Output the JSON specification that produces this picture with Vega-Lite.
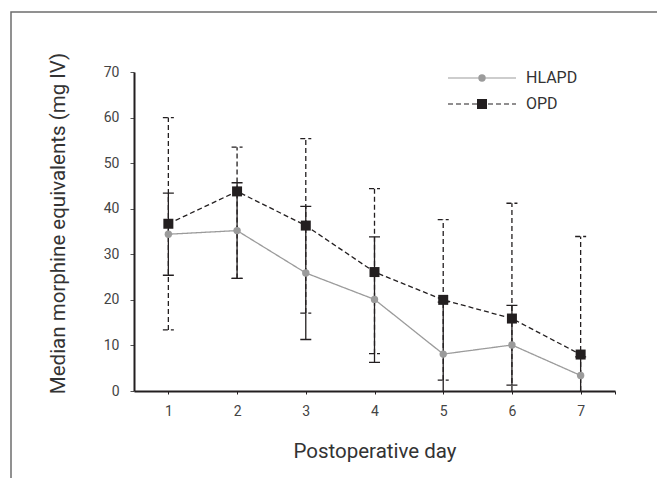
{
  "$schema": "https://vega.github.io/schema/vega-lite/v6.json",
  "autosize": "none",
  "padding": {"left": 11, "top": 12, "right": -5, "bottom": -5},
  "width": 651,
  "height": 471,
  "config": {
    "view": {"stroke": "#6d6d6d", "strokeWidth": 1.5},
    "font": "Roboto",
    "axis": {"grid": false, "labelFont": "Roboto", "titleFont": "Roboto"},
    "legend": {"labelFont": "Roboto"}
  },
  "data": {
    "values": [
      {"day": 1, "group": "HLAPD", "value": 34.4, "lo": 25.4, "hi": 43.4},
      {"day": 2, "group": "HLAPD", "value": 35.2, "lo": 24.7, "hi": 45.7},
      {"day": 3, "group": "HLAPD", "value": 25.9, "lo": 11.3, "hi": 40.5},
      {"day": 4, "group": "HLAPD", "value": 20.1, "lo": 6.3, "hi": 33.8},
      {"day": 5, "group": "HLAPD", "value": 8.1, "lo": 0, "hi": 19.5},
      {"day": 6, "group": "HLAPD", "value": 10.1, "lo": 1.3, "hi": 18.8},
      {"day": 7, "group": "HLAPD", "value": 3.4, "lo": 0, "hi": 7.5},
      {"day": 1, "group": "OPD", "value": 36.7, "lo": 13.4, "hi": 60.0},
      {"day": 2, "group": "OPD", "value": 43.8, "lo": 24.7, "hi": 53.5},
      {"day": 3, "group": "OPD", "value": 36.3, "lo": 17.1, "hi": 55.4},
      {"day": 4, "group": "OPD", "value": 26.1, "lo": 8.2, "hi": 44.4},
      {"day": 5, "group": "OPD", "value": 20.0, "lo": 2.4, "hi": 37.6},
      {"day": 6, "group": "OPD", "value": 15.9, "lo": 0, "hi": 41.2},
      {"day": 7, "group": "OPD", "value": 8.0, "lo": 0, "hi": 33.9}
    ]
  },
  "encoding": {
    "x": {
      "field": "day",
      "type": "quantitative",
      "scale": {"domain": [0.5, 7.5], "range": [123, 604], "nice": false, "zero": false},
      "axis": {
        "values": [1, 2, 3, 4, 5, 6, 7, 7.5],
        "labelExpr": "datum.value == 7.5 ? '' : datum.label",
        "offset": -92,
        "title": "Postoperative day",
        "titleFontSize": 20.5,
        "titleFontWeight": "normal",
        "titleColor": "#333333",
        "titlePadding": 23,
        "labelFontSize": 14,
        "labelColor": "#444444",
        "labelPadding": 10,
        "labelFlush": false,
        "labelOverlap": false,
        "tickSize": 3,
        "tickWidth": 1,
        "tickColor": "#231f20",
        "domainWidth": 2,
        "domainColor": "#231f20"
      }
    }
  },
  "layer": [
    {
      "mark": {"type": "rule", "strokeWidth": 1.3, "color": "#231f20"},
      "encoding": {
        "y": {
          "field": "lo",
          "type": "quantitative",
          "title": "Median morphine equivalents (mg IV)",
          "scale": {"domain": [0, 70], "range": [379, 60], "nice": false},
          "axis": {
            "values": [0, 10, 20, 30, 40, 50, 60, 70],
            "offset": -123,
            "title": "Median morphine equivalents (mg IV)",
            "titleFontSize": 20.5,
            "titleFontWeight": "normal",
            "titleColor": "#333333",
            "titlePadding": 35,
            "titleY": 211,
            "labelFontSize": 14,
            "labelColor": "#444444",
            "labelPadding": 11,
            "tickSize": 4,
            "tickWidth": 1,
            "tickColor": "#555555",
            "domainWidth": 2,
            "domainColor": "#231f20"
          }
        },
        "y2": {"field": "hi"},
        "strokeDash": {
          "field": "group",
          "type": "nominal",
          "scale": {"domain": ["HLAPD", "OPD"], "range": [[1, 0], [5, 3]]}
        }
      }
    },
    {
      "transform": [
        {"fold": ["lo", "hi"], "as": ["bound", "bv"]},
        {"filter": "datum.bv > 0"}
      ],
      "mark": {"type": "point", "shape": "stroke", "size": 121, "strokeWidth": 1.3, "color": "#231f20", "opacity": 1, "filled": false},
      "encoding": {
        "y": {"field": "bv", "type": "quantitative", "title": "Median morphine equivalents (mg IV)"},
        "strokeDash": {"field": "group", "type": "nominal"}
      }
    },
    {
      "mark": {"type": "line", "strokeWidth": 1.3},
      "encoding": {
        "y": {"field": "value", "type": "quantitative", "title": "Median morphine equivalents (mg IV)"},
        "color": {
          "field": "group",
          "type": "nominal",
          "scale": {"domain": ["HLAPD", "OPD"], "range": ["#9b9b9b", "#231f20"]},
          "legend": {
            "orient": "none",
            "legendX": 463,
            "legendY": 58,
            "title": null,
            "padding": 0,
            "symbolType": "M-6.8,0H6.8",
            "symbolSize": 100,
            "symbolStrokeWidth": 1.2,
            "labelOffset": 36,
            "labelFontSize": 16,
            "labelColor": "#333333",
            "rowPadding": 10
          }
        },
        "strokeDash": {"field": "group", "type": "nominal"},
        "detail": {"field": "group"}
      }
    },
    {
      "mark": {"type": "point", "filled": true, "opacity": 1, "strokeWidth": 0},
      "encoding": {
        "y": {"field": "value", "type": "quantitative", "title": "Median morphine equivalents (mg IV)"},
        "fill": {
          "field": "group",
          "type": "nominal",
          "scale": {"domain": ["OPD", "HLAPD"], "range": ["#231f20", "#9b9b9b"]}
        },
        "shape": {
          "field": "group",
          "type": "nominal",
          "scale": {"domain": ["OPD", "HLAPD"], "range": ["square", "circle"]},
          "legend": {
            "orient": "none",
            "legendX": 463,
            "legendY": 58,
            "title": null,
            "padding": 0,
            "values": ["HLAPD", "OPD"],
            "symbolStrokeWidth": 0,
            "labelOffset": 36,
            "labelFontSize": 16,
            "labelOpacity": 0,
            "rowPadding": 10
          }
        },
        "size": {
          "field": "group",
          "type": "nominal",
          "scale": {"domain": ["OPD", "HLAPD"], "range": [100, 55]}
        }
      }
    }
  ]
}
